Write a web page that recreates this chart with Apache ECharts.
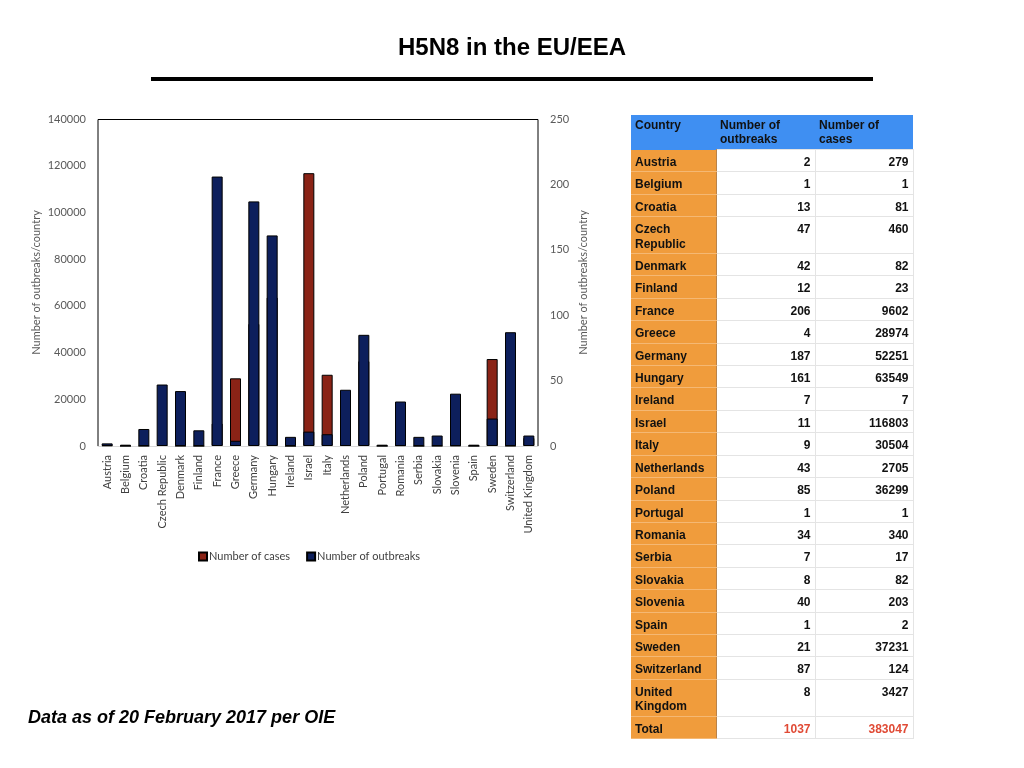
<!DOCTYPE html>
<html>
<head>
<meta charset="utf-8">
<title>H5N8 in the EU/EEA</title>
<script src="https://cdn.jsdelivr.net/npm/echarts@6/dist/echarts.min.js"></script>
<style>
    html, body { margin: 0; padding: 0; background: #fff; }
    #chart { position: absolute; left: 0; top: 0; width: 1024px; height: 768px; }
    #tbl {
        position: absolute; left: 631px; top: 115px;
        border-collapse: collapse; table-layout: fixed;
        font-family: "Liberation Sans", Arial, sans-serif; font-weight: bold; font-size: 12px;
        color: #111;
    }
    #tbl td { padding: 5px 4px 2px 4px; line-height: 14.4px; vertical-align: top; }
    #tbl tr.head td { background: #3f8ff2; height: 28px; padding-top: 3px; padding-bottom: 3px; line-height: 14px; }
    #tbl td.c { background: #f09c3c; border-bottom: 1px solid #f5b873; border-right: 1px solid #b9834a; }
    #tbl td.n { background: #fff; text-align: right; border: 1px solid #e4e4e4; }
    #tbl tr.total td.n { color: #e04a35; }
</style>
</head>
<body>
<div id="chart"></div>
<table id="tbl"></table>
<script>
    var countries = ['Austria', 'Belgium', 'Croatia', 'Czech Republic', 'Denmark', 'Finland', 'France', 'Greece',
        'Germany', 'Hungary', 'Ireland', 'Israel', 'Italy', 'Netherlands', 'Poland', 'Portugal', 'Romania',
        'Serbia', 'Slovakia', 'Slovenia', 'Spain', 'Sweden', 'Switzerland', 'United Kingdom'];
    var outbreaks = [2, 1, 13, 47, 42, 12, 206, 4, 187, 161, 7, 11, 9, 43, 85, 1, 34, 7, 8, 40, 1, 21, 87, 8];
    var cases = [279, 1, 81, 460, 82, 23, 9602, 28974, 52251, 63549, 7, 116803, 30504, 2705, 36299, 1, 340,
        17, 82, 203, 2, 37231, 124, 3427];
    var leftTicks = [0, 140000, 20000];   // min, max, interval
    var rightTicks = [0, 250, 50];
    var tableHead = ['Country', 'Number of<br>outbreaks', 'Number of<br>cases'];

    function sum(arr) {
        return arr.reduce(function (a, b) { return a + b; }, 0);
    }

    function _buildTable() {
        var html = '<colgroup><col style="width:85px"><col style="width:99px"><col style="width:98px"></colgroup>';
        html += '<tr class="head"><td>' + tableHead.join('</td><td>') + '</td></tr>';
        for (var i = 0; i < countries.length; i++) {
            html += '<tr><td class="c">' + countries[i] + '</td><td class="n">' + outbreaks[i] +
                '</td><td class="n">' + cases[i] + '</td></tr>';
        }
        html += '<tr class="total"><td class="c">Total</td><td class="n">' + sum(outbreaks) +
            '</td><td class="n">' + sum(cases) + '</td></tr>';
        document.getElementById('tbl').innerHTML = html;
    }

    var axisFont = {color: '#595959', fontSize: 11, fontFamily: 'Lato, "Open Sans", sans-serif'};

    function $extend(a, b) {
        var o = {};
        for (var k in b) o[k] = b[k];
        for (var j in a) o[j] = a[j];
        return o;
    }

    function _initChart(id) {
        var chart = echarts.init(document.getElementById(id));
        var option = {
            animation: false,
            textStyle: {fontFamily: 'Lato, "Open Sans", sans-serif'},
            graphic: [
                {
                    type: 'text', left: 'center', top: 36,
                    style: {text: 'H5N8 in the EU/EEA', font: 'bold 24px "Liberation Sans", Arial, sans-serif', fill: '#000'}
                },
                {
                    type: 'rect', shape: {x: 151, y: 77, width: 722, height: 4},
                    style: {fill: '#000'}
                },
                {
                    type: 'text', left: 28, top: 709,
                    style: {text: 'Data as of 20 February 2017 per OIE', font: 'italic bold 18px "Liberation Sans", Arial, sans-serif', fill: '#000'}
                },
                // box round the plot (top, left, right in black)
                {
                    type: 'polyline', shape: {points: [[98, 446], [98, 119.5], [538, 119.5], [538, 446]]},
                    style: {stroke: '#000', lineWidth: 1, fill: null}, z: 10
                }
            ],
            legend: {
                left: 193, top: 546, icon: 'rect',
                itemWidth: 8, itemHeight: 8, itemGap: 16,
                textStyle: {color: '#404040', fontSize: 11, padding: [0, 0, 0, -3]},
                data: ['Number of cases', 'Number of outbreaks']
            },
            grid: {left: 98, right: 486, top: 119, bottom: 322},
            xAxis: {
                type: 'category',
                data: countries,
                axisTick: {show: false},
                axisLine: {lineStyle: {color: '#d9d9d9'}},
                axisLabel: {rotate: 90, interval: 0, margin: 9, color: '#404040', fontSize: 11}
            },
            yAxis: [
                {
                    type: 'value', min: leftTicks[0], max: leftTicks[1], interval: leftTicks[2],
                    name: 'Number of outbreaks/country', nameLocation: 'middle', nameGap: 56,
                    nameTextStyle: axisFont,
                    axisLine: {show: false}, axisTick: {show: false}, splitLine: {show: false},
                    axisLabel: $extend({margin: 12, formatter: function (v) { return String(v); }}, axisFont)
                },
                {
                    type: 'value', min: rightTicks[0], max: rightTicks[1], interval: rightTicks[2],
                    name: 'Number of outbreaks/country', nameLocation: 'middle', nameGap: 40,
                    nameTextStyle: axisFont,
                    axisLine: {show: false}, axisTick: {show: false}, splitLine: {show: false},
                    axisLabel: $extend({margin: 12}, axisFont)
                }
            ],
            series: [
                {
                    name: 'Number of cases', type: 'bar', yAxisIndex: 0,
                    data: cases, barWidth: '60%', barGap: '-100%',
                    itemStyle: {color: '#8a2316', borderColor: '#000', borderWidth: 1}
                },
                {
                    name: 'Number of outbreaks', type: 'bar', yAxisIndex: 1,
                    data: outbreaks, barWidth: '60%', barGap: '-100%',
                    itemStyle: {color: '#0d1f5c', borderColor: '#000', borderWidth: 1}
                }
            ]
        };
        chart.setOption(option);
        return chart;
    }

    _buildTable();
    _initChart('chart');
</script>
</body>
</html>
